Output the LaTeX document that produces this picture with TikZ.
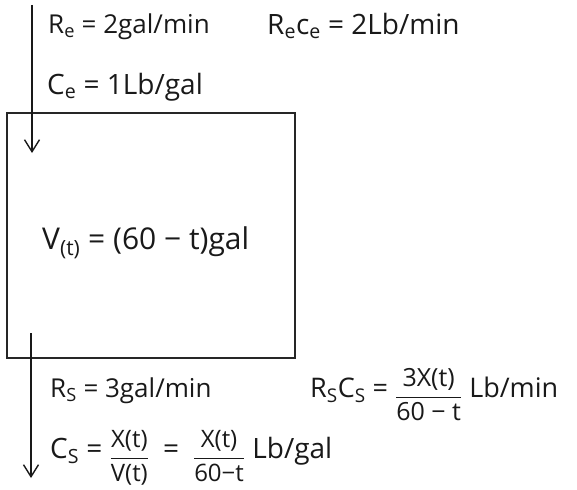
\documentclass[tikz,border=0pt]{standalone}
\usepackage{fontspec}
\setmainfont{Open Sans}
\usetikzlibrary{arrows.meta}
\newcommand{\sbs}[1]{\textsubscript{#1}}
\newcommand{\myfr}[4]{\raisebox{#2}{$\displaystyle\frac{\mbox{\fontsize{#1}{#1}\selectfont #3}}{\mbox{\fontsize{#1}{#1}\selectfont #4}}$}}
\begin{document}
\begin{tikzpicture}[x=1pt,y=-1pt,
 lbl/.style={font=\fontsize{26}{30}\selectfont, inner sep=0pt, anchor=base west, text=black!90},
 flow/.style={line width=1.4pt, draw=black!90, -{Straight Barb[length=12pt,width=15pt,line width=1.4pt]}},
 tank/.style={draw=black!85, line width=1.8pt, minimum width=288pt, minimum height=245pt, inner sep=0pt}]
\useasboundingbox (0,0) rectangle (577,489);
\node[tank] (tank) at (151,235.5) {};
\node[lbl, font=\fontsize{30}{34}\selectfont] (vol) at (42,249) {V\sbs{(t)} = (60 − t)gal};
\coordinate (inS) at (32,5);
\coordinate (inE) at (32,153);
\draw[flow] (inS) -- (inE);
\coordinate (outS) at (31,333);
\coordinate (outE) at (31,478);
\draw[flow] (outS) -- (outE);
\node[lbl] (Re) at (48,34) {R\sbs{e} = 2gal/min};
\node[lbl, font=\fontsize{28}{32}\selectfont] (ReCe) at (267,35) {R\sbs{e}c\sbs{e} = 2Lb/min};
\node[lbl, font=\fontsize{28}{32}\selectfont] (Ce) at (47,95) {C\sbs{e} = 1Lb/gal};
\node[lbl] (Rs) at (50,397) {R\sbs{S} = 3gal/min};
\node[lbl, font=\fontsize{27}{31}\selectfont] (RsCs) at (310,397) {R\sbs{S}C\sbs{S} = \myfr{25}{-6pt}{3X(t)}{60 − t} Lb/min};
\node[lbl, font=\fontsize{28}{32}\selectfont] (Cs) at (50,458) {C\sbs{S} = \myfr{24}{-6pt}{X(t)}{V(t)}\enskip=\enskip\myfr{24}{-6pt}{X(t)}{60−t} Lb/gal};
\end{tikzpicture}
\end{document}
